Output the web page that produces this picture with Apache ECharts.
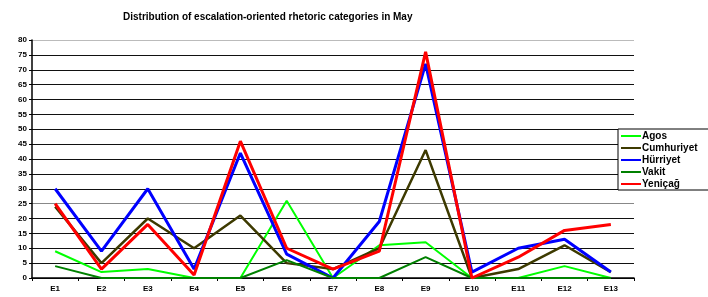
<!DOCTYPE html>
<html>
<head>
<meta charset="utf-8">
<script src="https://cdn.jsdelivr.net/npm/echarts@6/dist/echarts.min.js"></script>
<style>
  html, body { margin: 0; padding: 0; background: #fff; }
  #chart { width: 708px; height: 297px; }
</style>
</head>
<body>
<div id="chart"></div>
<script>
// categories E1..E13
var categories = ['E1', 'E2', 'E3', 'E4', 'E5', 'E6', 'E7', 'E8', 'E9', 'E10', 'E11', 'E12', 'E13'];

var agos       = [9, 2, 3, 0, 0, 26, 0, 11, 12, 0, 0, 4, 0];
var cumhuriyet = [24, 5, 20, 10, 21, 5, 3, 10, 43, 0, 3, 11, 2];
var hurriyet   = [30, 9, 30, 3, 42, 8, 0, 19, 72, 2, 10, 13, 2];
var vakit      = [4, 0, 0, 0, 0, 6, 0, 0, 7, 0, 0, 0, 0];
var yenicag    = [25, 3, 18, 1, 46, 10, 3, 9, 76, 0, 7, 16, 18];

var yTicks = [0, 5, 10, 15, 20, 25, 30, 35, 40, 45, 50, 55, 60, 65, 70, 75, 80];

var font = 'Liberation Sans, Arial, sans-serif';

function line(name, data, color, width, z) {
    return {
        name: name,
        type: 'line',
        data: data,
        showSymbol: false,
        symbol: 'none',
        z: z,
        lineStyle: { color: color, width: width },
        itemStyle: { color: color }
    };
}

// grid line colours, one per tick
var gridColors = yTicks.map(function (v) {
    if (v === 80) return '#bbb';
    if (v === 25) return '#888';
    return '#111';
});

var chart = echarts.init(document.getElementById('chart'));
chart.setOption({
    animation: false,
    title: {
        text: 'Distribution of escalation-oriented rhetoric categories in May',
        left: 118,
        top: 7,
        textStyle: { fontFamily: font, fontSize: 10, fontWeight: 'bold', color: '#000' }
    },
    grid: { left: 32, right: 74, top: 40, bottom: 19, containLabel: false },
    legend: {
        orient: 'vertical',
        left: 618,
        top: 129,
        padding: [2, 20, 1, 3],
        itemGap: 2,
        itemWidth: 20,
        itemHeight: 2,
        icon: 'rect',
        backgroundColor: '#fff',
        borderColor: '#000',
        borderWidth: 1,
        borderRadius: 0,
        textStyle: { fontFamily: font, fontSize: 10, fontWeight: 'bold', color: '#000', padding: [0, 0, 0, -4] },
        data: ['Agos', 'Cumhuriyet', 'Hürriyet', 'Vakit', 'Yeniçağ']
    },
    xAxis: {
        type: 'category',
        data: categories,
        boundaryGap: true,
        axisLine: { lineStyle: { color: '#000', width: 1.5 } },
        axisTick: { show: true, inside: false, length: 3, lineStyle: { color: '#000' } },
        axisLabel: { fontFamily: font, fontSize: 8, fontWeight: 'bold', color: '#000', margin: 7 }
    },
    yAxis: {
        type: 'value',
        min: 0,
        max: 80,
        interval: 5,
        axisLine: { show: true, lineStyle: { color: '#000', width: 1.5 } },
        axisTick: { show: true, length: 3, lineStyle: { color: '#000' } },
        axisLabel: { fontFamily: font, fontSize: 8, fontWeight: 'bold', color: '#000', margin: 5 },
        splitLine: {
            show: true,
            lineStyle: { width: 1.2, color: gridColors }
        }
    },
    series: [
        line('Agos', agos, '#00ff00', 2, 2),
        line('Cumhuriyet', cumhuriyet, '#3d3a00', 2.5, 3),
        line('Hürriyet', hurriyet, '#0000ff', 3, 4),
        line('Vakit', vakit, '#008000', 2, 5),
        line('Yeniçağ', yenicag, '#ff0000', 3, 6)
    ]
});
</script>
</body>
</html>
